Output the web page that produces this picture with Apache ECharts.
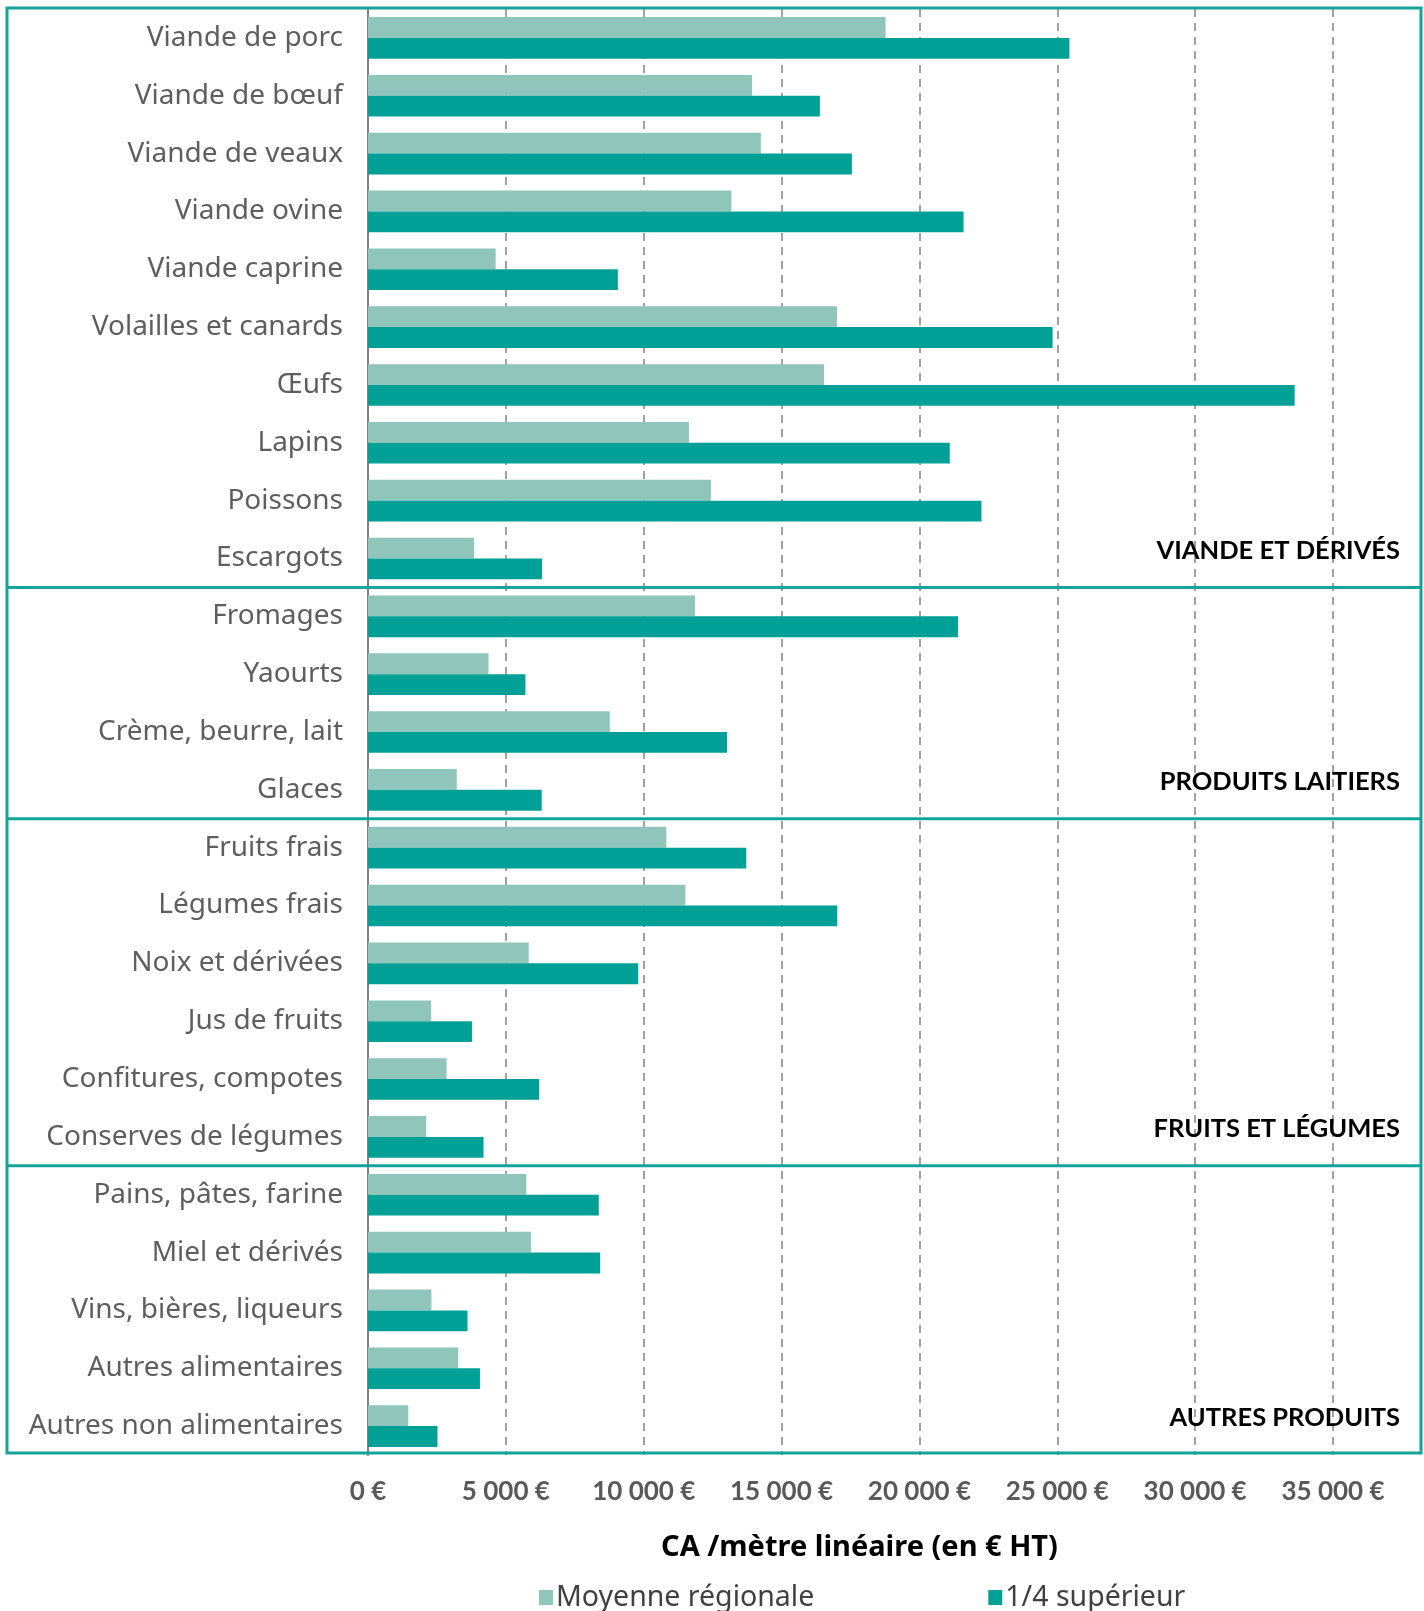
<!DOCTYPE html>
<html>
<head>
<meta charset="utf-8">
<script src="https://cdn.jsdelivr.net/npm/echarts@6/dist/echarts.min.js"></script>
<style>
  html, body { margin: 0; padding: 0; background: #fff; }
  #ca_show { width: 1424px; height: 1611px; }
</style>
</head>
<body>
<div id="ca_show"></div>
<script>
// categories (top -> bottom)
var produits = ["Viande de porc", "Viande de bœuf", "Viande de veaux", "Viande ovine", "Viande caprine",
  "Volailles et canards", "Œufs", "Lapins", "Poissons", "Escargots",
  "Fromages", "Yaourts", "Crème, beurre, lait", "Glaces",
  "Fruits frais", "Légumes frais", "Noix et dérivées", "Jus de fruits", "Confitures, compotes", "Conserves de légumes",
  "Pains, pâtes, farine", "Miel et dérivés", "Vins, bières, liqueurs", "Autres alimentaires", "Autres non alimentaires"];

// CA / mètre linéaire (€ HT)
var moyenne = [18770, 13930, 14250, 13180, 4630, 17010, 16540, 11640, 12440, 3850,
  11860, 4370, 8770, 3220,
  10820, 11510, 5830, 2290, 2850, 2110,
  5740, 5910, 2300, 3270, 1460];
var quartSup = [25440, 16390, 17550, 21600, 9060, 24830, 33610, 21100, 22250, 6310,
  21400, 5710, 13020, 6300,
  13720, 17020, 9800, 3770, 6210, 4190,
  8370, 8420, 3610, 4060, 2520];

// groupes : nom + dernier produit du groupe
var groupes = ["VIANDE ET DÉRIVÉS", "PRODUITS LAITIERS", "FRUITS ET LÉGUMES", "AUTRES PRODUITS"];
var groupeFin = [9, 13, 19, 24];

var xTicks = [0, 5000, 10000, 15000, 20000, 25000, 30000, 35000];

var teal = "#00a096";
var tealLight = "#8fc5bb";
var cadre = "#14a399";

function fmtEuro(v) {
  var s = String(v).replace(/\B(?=(\d{3})+(?!\d))/g, " ");
  return s + " €";
}

var myChart = echarts.init(document.getElementById("ca_show"));

var option = {
  animation: false,
  textStyle: { fontFamily: "'Noto Sans', Lato, sans-serif" },
  grid: { left: 368, right: 91, top: 9, bottom: 156, containLabel: false },
  legend: {
    left: 534,
    top: 1578,
    itemGap: 174,
    itemWidth: 14,
    itemHeight: 15,
    icon: "rect",
    textStyle: { fontSize: 28.5, color: "#404040", padding: [0, 0, 0, -2] },
    data: ["Moyenne régionale", "1/4 supérieur"]
  },
  xAxis: {
    type: "value",
    min: xTicks[0],
    max: xTicks[xTicks.length - 1],
    interval: xTicks[1] - xTicks[0],
    name: "CA /mètre linéaire (en € HT)",
    nameLocation: "middle",
    nameGap: 78,
    nameTextStyle: { fontSize: 29, fontWeight: "bold", color: "#000", padding: [0, 0, 0, 18] },
    axisLine: { show: false },
    axisTick: { show: false },
    axisLabel: {
      margin: 24,
      fontSize: 26,
      fontWeight: "bold",
      fontFamily: "Lato, sans-serif",
      color: "#595959",
      formatter: fmtEuro
    },
    splitLine: {
      show: true,
      lineStyle: { color: "#8a8a8a", width: 1.6, type: [8, 6] }
    }
  },
  yAxis: {
    type: "category",
    inverse: true,
    data: produits,
    axisLine: { show: true, lineStyle: { color: "#808080", width: 2 } },
    axisTick: { show: false },
    axisLabel: { margin: 25, fontSize: 28, color: "#5e5e5e" }
  },
  series: [
    {
      name: "Moyenne régionale",
      type: "bar",
      barGap: "0%",
      barCategoryGap: "28%",
      itemStyle: { color: tealLight },
      data: moyenne
    },
    {
      name: "1/4 supérieur",
      type: "bar",
      barGap: "0%",
      barCategoryGap: "28%",
      itemStyle: { color: teal },
      data: quartSup
    }
  ]
};
myChart.setOption(option);

// cadre + séparateurs + titres des groupes, placés via l'axe
var gx0 = 7, gx1 = 1421;
var yTop = myChart.convertToPixel({ yAxisIndex: 0 }, 0);
var yStep = myChart.convertToPixel({ yAxisIndex: 0 }, 1) - yTop;
var yHaut = yTop - yStep / 2 - 1;
var yBas = myChart.convertToPixel({ yAxisIndex: 0 }, produits.length - 1) + yStep / 2 - 2;

var elems = [];
elems.push({
  type: "rect",
  shape: { x: gx0, y: yHaut, width: gx1 - gx0, height: yBas - yHaut },
  style: { fill: null, stroke: cadre, lineWidth: 3 },
  z: 100
});
for (var i = 0; i < groupes.length; i++) {
  var yc = myChart.convertToPixel({ yAxisIndex: 0 }, groupeFin[i]);
  if (i < groupes.length - 1) {
    var ySep = yc + yStep / 2;
    elems.push({
      type: "line",
      shape: { x1: gx0, y1: ySep, x2: gx1, y2: ySep },
      style: { stroke: cadre, lineWidth: 3 },
      z: 100
    });
  }
  elems.push({
    type: "text",
    x: 1400,
    y: yc - 8,
    style: {
      text: groupes[i],
      align: "right",
      verticalAlign: "middle",
      font: "bold 25.5px Lato, 'Open Sans', sans-serif",
      fill: "#000"
    },
    z: 100
  });
}
myChart.setOption({ graphic: elems });
</script>
</body>
</html>
